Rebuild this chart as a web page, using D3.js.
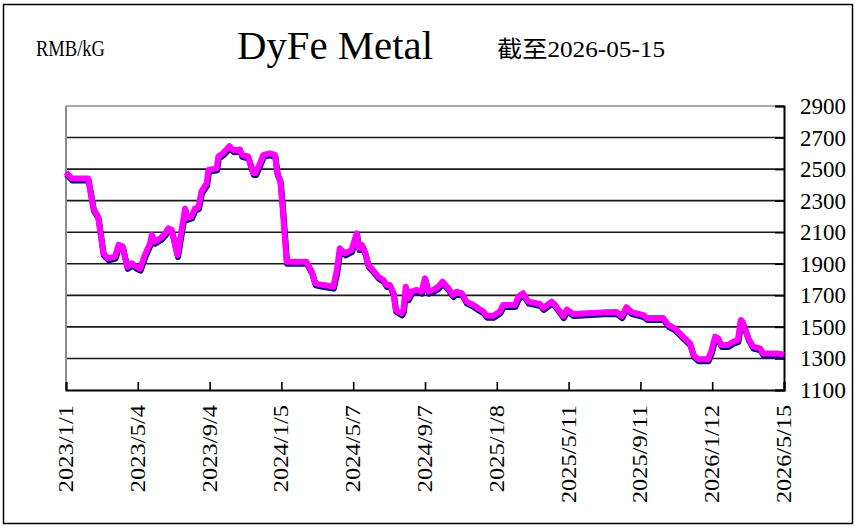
<!DOCTYPE html>
<html>
<head>
<meta charset="utf-8">
<script src="https://cdn.jsdelivr.net/npm/d3@7"></script>
<style>
  body { margin: 0; background: #fff; }
  text { font-family: "Liberation Serif", "Noto Sans CJK SC", serif; fill: #000; }
</style>
</head>
<body>
<script>
let width = 859
let height = 528
let margin = { top: 106, right: 75, bottom: 138, left: 66 }

let dates = [
  "2023-01-01","2023-01-11","2023-02-08","2023-02-17","2023-02-25","2023-03-06","2023-03-14","2023-03-26",
  "2023-04-01","2023-04-08","2023-04-16","2023-04-24","2023-05-02","2023-05-08","2023-05-16","2023-05-25",
  "2023-05-28","2023-06-02","2023-06-11","2023-06-20","2023-06-25","2023-07-01","2023-07-11","2023-07-24",
  "2023-07-27","2023-08-04","2023-08-10","2023-08-16","2023-08-21","2023-08-30","2023-09-02","2023-09-16",
  "2023-09-19","2023-09-27","2023-10-08","2023-10-15","2023-10-26","2023-10-29","2023-11-09","2023-11-18",
  "2023-11-22","2023-11-29","2023-12-05","2023-12-16","2023-12-25","2023-12-29","2024-01-03","2024-01-07",
  "2024-01-14","2024-02-17","2024-02-26","2024-03-03","2024-03-17","2024-04-03","2024-04-09","2024-04-14",
  "2024-04-23","2024-05-04","2024-05-13","2024-05-17","2024-05-22","2024-05-27","2024-06-02","2024-06-10",
  "2024-06-19","2024-06-28","2024-07-03","2024-07-09","2024-07-15","2024-07-19","2024-07-29","2024-08-01",
  "2024-08-05","2024-08-09","2024-08-15","2024-08-24","2024-09-01","2024-09-07","2024-09-13","2024-09-21",
  "2024-09-30","2024-10-07","2024-10-17","2024-10-25","2024-10-31","2024-11-09","2024-11-17","2024-11-29",
  "2024-12-07","2024-12-16","2024-12-22","2025-01-02","2025-01-13","2025-01-19","2025-02-08","2025-02-14",
  "2025-02-22","2025-03-03","2025-03-23","2025-03-29","2025-04-12","2025-04-18","2025-05-02","2025-05-08",
  "2025-05-19","2025-06-11","2025-07-09","2025-08-01","2025-08-10","2025-08-18","2025-08-27","2025-09-16",
  "2025-09-22","2025-10-20","2025-10-29","2025-11-09","2025-11-23","2025-12-05","2025-12-11","2025-12-19",
  "2026-01-05","2026-01-11","2026-01-17","2026-01-22","2026-01-28","2026-02-08","2026-02-17","2026-02-25",
  "2026-03-02","2026-03-05","2026-03-15","2026-03-23","2026-04-04","2026-04-09","2026-05-05","2026-05-15"
]
let prices = [
  2480,2440,2440,2250,2200,1966,1935,1945,
  2020,2010,1880,1903,1880,1870,1955,2030,
  2082,2040,2060,2093,2125,2115,1955,2250,
  2190,2200,2250,2260,2357,2410,2495,2505,
  2580,2600,2645,2620,2625,2590,2580,2475,
  2475,2535,2590,2600,2590,2475,2430,2262,
  1913,1913,1850,1776,1765,1755,1860,1998,
  1966,1987,2093,1998,2020,1977,1892,1860,
  1818,1797,1765,1765,1713,1607,1586,1607,
  1755,1681,1723,1734,1723,1808,1723,1734,
  1755,1787,1745,1702,1723,1713,1660,1639,
  1618,1597,1570,1570,1597,1639,1639,1691,
  1713,1660,1645,1620,1660,1639,1568,1611,
  1582,1586,1592,1595,1568,1625,1594,1575,
  1556,1556,1512,1491,1438,1396,1322,1295,
  1295,1353,1438,1428,1385,1385,1406,1417,
  1544,1533,1428,1375,1364,1332,1332,1322
]
let xTickLabels = ["2023/1/1","2023/5/4","2023/9/4","2024/1/5","2024/5/7","2024/9/7",
  "2025/1/8","2025/5/11","2025/9/11","2026/1/12","2026/5/15"]
let yTicks = [1100, 1300, 1500, 1700, 1900, 2100, 2300, 2500, 2700, 2900]

let parse = d3.timeParse("%Y-%m-%d")
let parseTick = d3.timeParse("%Y/%m/%d")
let data = dates.map((d, i) => ({ date: parse(d), value: prices[i] }))
let tickDates = xTickLabels.map(parseTick)

let svg = d3.select("body").append("svg")
  .attr("width", width)
  .attr("height", height)

// outer frame
svg.append("rect")
  .attr("x", 3.5).attr("y", 4.5)
  .attr("width", 849).attr("height", 519)
  .attr("fill", "none").attr("stroke", "#000").attr("stroke-width", 1.5)

let x = d3.scaleTime()
  .domain([tickDates[0], tickDates[tickDates.length - 1]])
  .range([margin.left, width - margin.right])
let y = d3.scaleLinear()
  .domain([1100, 2900])
  .range([height - margin.bottom, margin.top])

let x0 = x.range()[0], x1 = x.range()[1]

// gridlines
svg.append("g").selectAll("line").data(yTicks.filter(v => v > 1100 && v < 2900))
  .enter().append("line")
  .attr("x1", x0).attr("x2", x1)
  .attr("y1", d => y(d)).attr("y2", d => y(d))
  .attr("stroke", "#1a1a1a").attr("stroke-width", 1.6)

// top border (gray) and left axis (gray)
svg.append("line").attr("x1", x0).attr("x2", x1)
  .attr("y1", y(2900)).attr("y2", y(2900))
  .attr("stroke", "#8c8c8c").attr("stroke-width", 1.6)
svg.append("line").attr("x1", x0).attr("x2", x0)
  .attr("y1", y(2900)).attr("y2", y(1100))
  .attr("stroke", "#8c8c8c").attr("stroke-width", 2)

// right axis
let yAxis = d3.axisLeft(y).tickValues(yTicks).tickSize(9).tickFormat("")
let gy = svg.append("g").attr("transform", "translate(" + x1 + ",0)").call(yAxis)
gy.select(".domain").attr("stroke", "#000").attr("stroke-width", 2)
gy.selectAll(".tick line").attr("stroke", "#000").attr("stroke-width", 1.6)

svg.append("g").selectAll("text").data(yTicks)
  .enter().append("text")
  .attr("x", x1 + 16)
  .attr("y", d => y(d))
  .attr("dy", "0.35em")
  .attr("font-size", 23)
  .attr("textLength", 46)
  .attr("lengthAdjust", "spacingAndGlyphs")
  .text(d => d)

// bottom axis, ticks pointing inward
let xAxis = d3.axisTop(x).tickValues(tickDates).tickSize(8).tickFormat("")
let gx = svg.append("g").attr("transform", "translate(0," + y(1100) + ")").call(xAxis)
gx.select(".domain").attr("stroke", "#000").attr("stroke-width", 2)
gx.selectAll(".tick line").attr("stroke", "#000").attr("stroke-width", 1.6)

svg.append("g").selectAll("text").data(tickDates)
  .enter().append("text")
  .attr("transform", d => "translate(" + (x(d) + 7) + "," + (y(1100) + 15) + ") rotate(-90)")
  .attr("text-anchor", "end")
  .attr("font-size", 22)
  .attr("textLength", (d, i) => xTickLabels[i].length * 10.9)
  .attr("lengthAdjust", "spacingAndGlyphs")
  .text((d, i) => xTickLabels[i])

// price line: navy shadow then magenta
let line = d3.line().x(d => x(d.date)).y(d => y(d.value))
svg.append("path").datum(data)
  .attr("d", line)
  .attr("transform", "translate(0.5,2)")
  .attr("fill", "none").attr("stroke", "#000080")
  .attr("stroke-width", 6).attr("stroke-linejoin", "round")
svg.append("path").datum(data)
  .attr("d", line)
  .attr("fill", "none").attr("stroke", "#ff00ff")
  .attr("stroke-width", 6).attr("stroke-linejoin", "round")

// titles
svg.append("text").attr("x", 36).attr("y", 56)
  .attr("font-size", 24).attr("textLength", 69).attr("lengthAdjust", "spacingAndGlyphs")
  .text("RMB/kG")
svg.append("text").attr("x", 237).attr("y", 59)
  .attr("font-size", 40).attr("textLength", 196).attr("lengthAdjust", "spacingAndGlyphs")
  .text("DyFe Metal")
svg.append("text").attr("x", 497).attr("y", 57)
  .attr("font-size", 23).attr("textLength", 168).attr("lengthAdjust", "spacingAndGlyphs")
  .text("截至2026-05-15")
</script>
</body>
</html>
